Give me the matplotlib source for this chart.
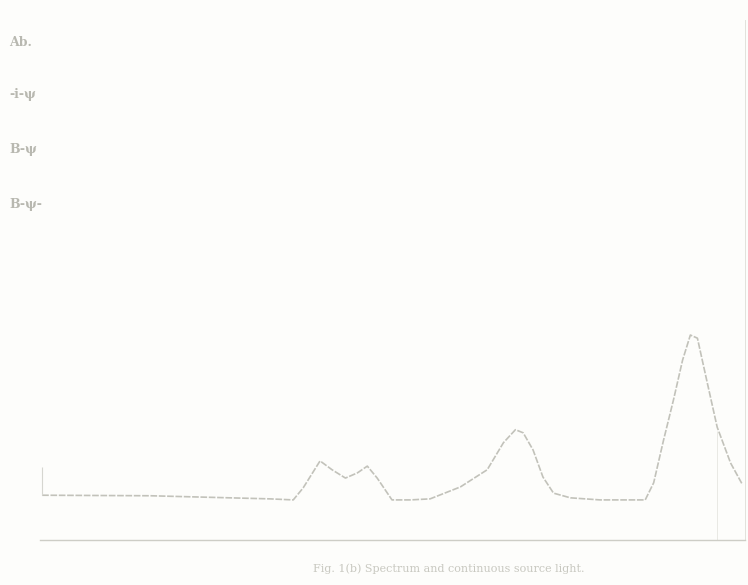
import matplotlib.pyplot as plt
import numpy as np

# trace (x: arbitrary position, y: arbitrary intensity)
pos = [0.3, 15.6, 32.6, 35.9, 37.3, 39.7, 41.4, 43.3, 45.0, 46.4, 47.8, 49.9,
       52.5, 55.3, 59.6, 63.4, 65.7, 67.4, 68.5, 69.9, 71.3, 72.8, 75.2, 79.4,
       85.8, 87.0, 88.4, 89.8, 91.1, 92.2, 93.2, 94.6, 96.0, 97.9, 99.6]
intensity = [8.6, 8.5, 7.9, 7.7, 10.0, 15.2, 13.5, 11.9, 12.9, 14.2, 11.9, 7.7,
             7.7, 7.9, 10.2, 13.5, 18.7, 21.2, 20.6, 17.3, 12.1, 9.0, 8.1, 7.7,
             7.7, 11.0, 19.2, 26.9, 34.6, 39.4, 38.8, 30.2, 21.7, 14.8, 10.6]

side_labels = ['Ab.', '-i-\u03c8', 'B-\u03c8', 'B-\u03c8-']
side_label_y = [0.928, 0.838, 0.744, 0.650]
caption = 'Fig. 1(b) Spectrum and continuous source light.'

ink = '#c2c2ba'

fig = plt.figure(figsize=(7.48, 5.85), dpi=100)
fig.patch.set_facecolor('#fdfdfb')
ax = fig.add_axes([0.0535, 0.077, 0.943, 0.889])
ax.set_facecolor('#fdfdfb')

ax.plot(pos, intensity, color=ink, lw=1.2, ls=(0, (4, 1)))

ax.set_xlim(0, 100)
ax.set_ylim(0, 100)
ax.set_xticks([])
ax.set_yticks([])
for s in ['top', 'left']:
    ax.spines[s].set_visible(False)
ax.spines['bottom'].set_color('#cdcdc6')
ax.spines['right'].set_color('#e2e2dc')
ax.spines['bottom'].set_linewidth(1.0)
ax.spines['right'].set_linewidth(0.7)

# small marks at the left end of the baseline and below the big peak
ax.vlines(0.3, 8.6, 14, color='#d6d6d0', lw=0.8)
ax.vlines(96.0, 0, 21, color='#e6e6e0', lw=0.6)

for lab, yy in zip(side_labels, side_label_y):
    fig.text(0.012, yy, lab, fontsize=9, color='#b8b8b0', va='center',
             family='DejaVu Serif', weight='bold')

fig.text(0.6, 0.028, caption, fontsize=8, color='#c8c8c0', ha='center', va='center',
         family='DejaVu Serif')

fig.savefig('out.png', dpi=100, facecolor=fig.get_facecolor())
